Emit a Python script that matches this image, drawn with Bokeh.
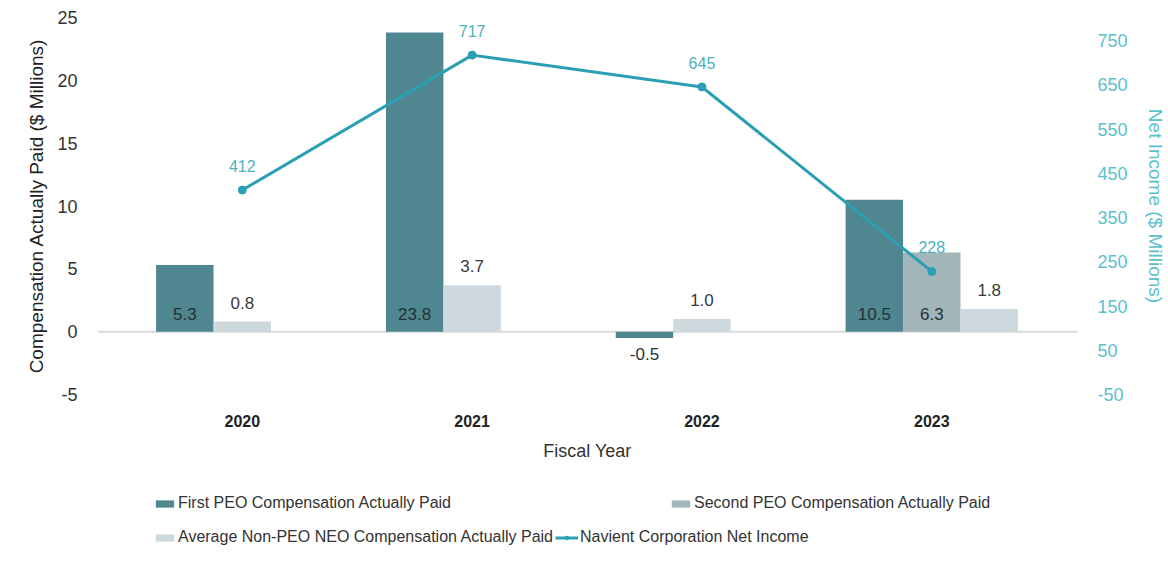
import numpy as np
from bokeh.plotting import figure
from bokeh.layouts import column
from bokeh.models import (Range1d, LinearAxis, FixedTicker, ColumnDataSource, LabelSet,
                          Span, Legend, LegendItem)
from bokeh.core.properties import value
from bokeh.embed import file_html
from bokeh.resources import INLINE

# ---- data ----
years = ["2020", "2021", "2022", "2023"]
first_peo = [5.3, 23.8, -0.5, 10.5]
second_peo = [None, None, None, 6.3]
non_peo = [0.8, 3.7, 1.0, 1.8]
net_income = [412, 717, 645, 228]

comp_ticks = [-5, 0, 5, 10, 15, 20, 25]
income_ticks = [-50, 50, 150, 250, 350, 450, 550, 650, 750]

series_names = ["First PEO Compensation Actually Paid",
                "Second PEO Compensation Actually Paid",
                "Average Non-PEO NEO Compensation Actually Paid",
                "Navient Corporation Net Income"]

# ---- styling ----
C_FIRST = "#4f868f"
C_SECOND = "#a3b5b9"
C_NON = "#cdd9dc"
C_LINE = "#2b9fb3"
C_RIGHT = "#5cbfcc"
FONT = "Liberation Sans"
BW = 0.25

xpos = np.arange(len(years), dtype=float)
has_second = np.array([v is not None for v in second_peo])

p = figure(width=1168, height=470, output_backend="svg", toolbar_location=None,
           x_range=Range1d(-0.630, 3.634), y_range=Range1d(-5, 25),
           min_border_left=97, min_border_right=83, min_border_top=17, min_border_bottom=76)
p.extra_y_ranges = {"right": Range1d(-50, 802)}
p.outline_line_color = None
p.xgrid.visible = False
p.ygrid.visible = False
p.background_fill_color = "white"

zero = Span(location=0, dimension="width", line_color="#d9d9d9", line_width=2, level="underlay")
p.add_layout(zero)

# bars
src_first = ColumnDataSource(dict(x=xpos - BW, top=first_peo,
                                  lab=[f"{v:.1f}" for v in first_peo],
                                  ly=[0.0] * len(first_peo),
                                  off=[18 if v >= 0 else -22 for v in first_peo]))
r1 = p.vbar(x="x", top="top", bottom=0, width=BW, source=src_first, fill_color=C_FIRST, line_color=None)

sec_idx = [i for i, v in enumerate(second_peo) if v is not None]
src_second = ColumnDataSource(dict(x=[xpos[i] for i in sec_idx], top=[second_peo[i] for i in sec_idx],
                                   lab=[f"{second_peo[i]:.1f}" for i in sec_idx],
                                   ly=[0.0] * len(sec_idx),
                                   off=[18] * len(sec_idx)))
r2 = p.vbar(x="x", top="top", bottom=0, width=BW, source=src_second, fill_color=C_SECOND, line_color=None)

non_x = xpos + np.where(has_second, BW, 0.0)
src_non = ColumnDataSource(dict(x=non_x, top=non_peo, lab=[f"{v:.1f}" for v in non_peo]))
r3 = p.vbar(x="x", top="top", bottom=0, width=BW, source=src_non, fill_color=C_NON, line_color=None)

# line
src_line = ColumnDataSource(dict(x=xpos, y=net_income, lab=[str(v) for v in net_income]))
rl = p.line("x", "y", source=src_line, y_range_name="right", line_color=C_LINE, line_width=3)
rs = p.scatter("x", "y", source=src_line, y_range_name="right", marker="circle", size=8,
               fill_color=C_LINE, line_color=C_LINE)

# labels
for src in (src_first, src_second):
    p.add_layout(LabelSet(x="x", y="ly", text="lab", source=src, y_offset="off",
                          text_align="center", text_baseline="middle", text_font=value(FONT),
                          text_font_size="17px", text_color="#1f3236"))
p.add_layout(LabelSet(x="x", y="top", text="lab", source=src_non, y_offset=19,
                      text_align="center", text_baseline="middle", text_font=value(FONT),
                      text_font_size="17px", text_color="#3a3a3a"))
p.add_layout(LabelSet(x="x", y="y", text="lab", source=src_line, y_range_name="right", y_offset=24,
                      text_align="center", text_baseline="middle", text_font=value(FONT),
                      text_font_size="16px", text_color="#4db0bd"))

# axes
xa = p.xaxis[0]
xa.ticker = FixedTicker(ticks=list(xpos))
xa.major_label_overrides = {i: y for i, y in enumerate(years)}
xa.axis_line_color = None
xa.major_tick_line_color = None
xa.minor_tick_line_color = None
xa.major_label_standoff = 14
xa.major_label_text_font = FONT
xa.major_label_text_font_style = "bold"
xa.major_label_text_font_size = "16px"
xa.major_label_text_color = "#222222"
xa.axis_label = "Fiscal Year"
xa.axis_label_text_font = FONT
xa.axis_label_text_font_style = "normal"
xa.axis_label_text_font_size = "18px"
xa.axis_label_text_color = "#333333"
xa.axis_label_standoff = 11

ya = p.yaxis[0]
ya.ticker = FixedTicker(ticks=comp_ticks)
ya.major_label_overrides = {t: str(t) for t in comp_ticks}
ya.axis_line_color = None
ya.major_tick_line_color = None
ya.minor_tick_line_color = None
ya.major_label_standoff = 14
ya.major_label_text_font = FONT
ya.major_label_text_font_size = "18px"
ya.major_label_text_color = "#333333"
ya.axis_label = "Compensation Actually Paid ($ Millions)"
ya.axis_label_text_font = FONT
ya.axis_label_text_font_style = "normal"
ya.axis_label_text_font_size = "19px"
ya.axis_label_text_color = "#222222"
ya.axis_label_standoff = 7

ra = LinearAxis(y_range_name="right", ticker=FixedTicker(ticks=income_ticks))
ra.major_label_overrides = {t: str(t) for t in income_ticks}
ra.axis_line_color = None
ra.major_tick_line_color = None
ra.minor_tick_line_color = None
ra.major_label_standoff = 14
ra.major_label_text_font = FONT
ra.major_label_text_font_size = "18px"
ra.major_label_text_color = C_RIGHT
ra.axis_label = "Net Income ($ Millions)"
ra.axis_label_text_font = FONT
ra.axis_label_text_font_style = "normal"
ra.axis_label_text_font_size = "19px"
ra.axis_label_text_color = C_RIGHT
ra.axis_label_standoff = 14
p.add_layout(ra, "right")

# ---- legend strip (own figure; proxy glyphs styled like the series, kept off-range) ----
pl = figure(width=1168, height=91, output_backend="svg", toolbar_location=None,
            x_range=Range1d(0, 10), y_range=Range1d(0, 10),
            x_axis_location=None, y_axis_location=None,
            min_border_left=0, min_border_right=0, min_border_top=0, min_border_bottom=0)
pl.outline_line_color = None
pl.xgrid.visible = False
pl.ygrid.visible = False
off_bar = dict(x=[-100.0], top=[-99.0])
g1 = pl.vbar(x="x", top="top", width=1, source=ColumnDataSource(off_bar), fill_color=C_FIRST, line_color=None)
g2 = pl.vbar(x="x", top="top", width=1, source=ColumnDataSource(off_bar), fill_color=C_SECOND, line_color=None)
g3 = pl.vbar(x="x", top="top", width=1, source=ColumnDataSource(off_bar), fill_color=C_NON, line_color=None)
ge = ColumnDataSource(dict(x=[-100.0, -99.0], y=[-100.0, -100.0]))
g4 = pl.line("x", "y", source=ge, line_color=C_LINE, line_width=3)
g5 = pl.scatter("x", "y", source=ge, marker="circle", size=8, fill_color=C_LINE, line_color=C_LINE)

def make_leg(items, loc, spacing):
    return Legend(items=items, location=loc,
                  orientation="horizontal", padding=0, margin=0, spacing=spacing,
                  glyph_width=23, glyph_height=9, label_standoff=2, label_height=18,
                  label_text_font=FONT, label_text_font_size="16px", label_text_color="#333333",
                  border_line_color=None, background_fill_alpha=0)

leg1 = make_leg([LegendItem(label=series_names[0], renderers=[g1]),
                 LegendItem(label=series_names[1], renderers=[g2])], (56, 49), 218)
leg2 = make_leg([LegendItem(label=series_names[2], renderers=[g3]),
                 LegendItem(label=series_names[3], renderers=[g4, g5])], (56, 15), 2)
pl.add_layout(leg1)
pl.add_layout(leg2)

open("out.html", "w").write(file_html(column(p, pl, spacing=0), INLINE))
